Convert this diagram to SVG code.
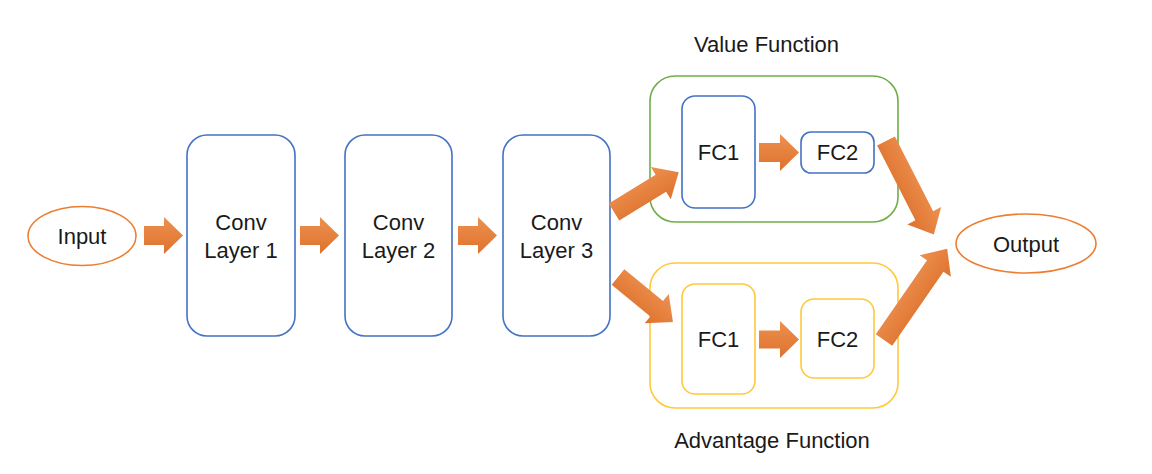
<svg xmlns="http://www.w3.org/2000/svg" width="1152" height="474" viewBox="0 0 1152 474">
<style>
text{font-family:"Liberation Sans","Noto Sans",Arial,sans-serif;font-size:22px;fill:#1a1a1a;text-anchor:middle}
.blue{fill:#fff;stroke:#4472C4;stroke-width:1.6}
.yel{fill:#fff;stroke:#FFC93C;stroke-width:1.6}
.grn{fill:none;stroke:#70AD47;stroke-width:1.6}
.ygrp{fill:none;stroke:#FFC93C;stroke-width:1.6}
.ell{fill:#fff;stroke:#ED7D31;stroke-width:1.6}
.arr{fill:url(#og);stroke:none}
</style>
<defs>
<linearGradient id="og" x1="0" y1="0" x2="0" y2="1">
<stop offset="0" stop-color="#EE9050"/>
<stop offset="1" stop-color="#DD722D"/>
</linearGradient>
</defs>
<g id="value-group"><rect class="grn" x="650" y="76" width="248" height="146" rx="25"/><text x="766.5" y="52">Value Function</text></g>
<g id="advantage-group"><rect class="ygrp" x="650" y="263" width="248" height="145" rx="25"/><text x="772" y="448">Advantage Function</text></g>
<g id="input"><ellipse class="ell" cx="82" cy="236" rx="54" ry="29.5"/><text x="82" y="244">Input</text></g>
<g id="conv1"><rect class="blue" x="187" y="135" width="108" height="201" rx="20"/><text x="241" y="230">Conv</text><text x="241" y="258">Layer 1</text></g>
<g id="conv2"><rect class="blue" x="345" y="135" width="107" height="201" rx="20"/><text x="398.5" y="230">Conv</text><text x="398.5" y="258">Layer 2</text></g>
<g id="conv3"><rect class="blue" x="503" y="135" width="107" height="201" rx="20"/><text x="556.5" y="230">Conv</text><text x="556.5" y="258">Layer 3</text></g>
<g id="v-fc1"><rect class="blue" x="682" y="96" width="73" height="112" rx="13"/><text x="718.5" y="160">FC1</text></g>
<g id="v-fc2"><rect class="blue" x="801" y="132" width="73" height="41" rx="10"/><text x="837.5" y="160">FC2</text></g>
<g id="a-fc1"><rect class="yel" x="682" y="284" width="73" height="110" rx="13"/><text x="718.5" y="347">FC1</text></g>
<g id="a-fc2"><rect class="yel" x="801" y="299" width="73" height="79" rx="13"/><text x="837.5" y="347">FC2</text></g>
<g id="output"><ellipse class="ell" cx="1026" cy="243.5" rx="70" ry="29.5"/><text x="1026" y="252">Output</text></g>
<g id="connectors">
<path class="arr" transform="translate(144,235.5)" d="M0,-9.5H20V-18.5L39,0L20,18.5V9.5H0Z"/>
<path class="arr" transform="translate(300,235.5)" d="M0,-9.5H20V-18.5L39,0L20,18.5V9.5H0Z"/>
<path class="arr" transform="translate(458,235.5)" d="M0,-9.5H20V-18.5L39,0L20,18.5V9.5H0Z"/>
<path class="arr" transform="translate(759,152.5)" d="M0,-9.5H21V-18.5L40,0L21,18.5V9.5H0Z"/>
<path class="arr" transform="translate(759,339.5)" d="M0,-9H21V-18.5L40,0L21,18.5V9H0Z"/>
<path class="arr" transform="translate(614,212) rotate(-31.6)" d="M0,-10H55V-19L76,0L55,19V10H0Z"/>
<path class="arr" transform="translate(618,277) rotate(39.3)" d="M0,-10H50V-19L71,0L50,19V10H0Z"/>
<path class="arr" transform="translate(886,141) rotate(62.9)" d="M0,-10H84V-19L105,0L84,19V10H0Z"/>
<path class="arr" transform="translate(884,340) rotate(-55.3)" d="M0,-10H90V-19L111,0L90,19V10H0Z"/>
</g>
</svg>
